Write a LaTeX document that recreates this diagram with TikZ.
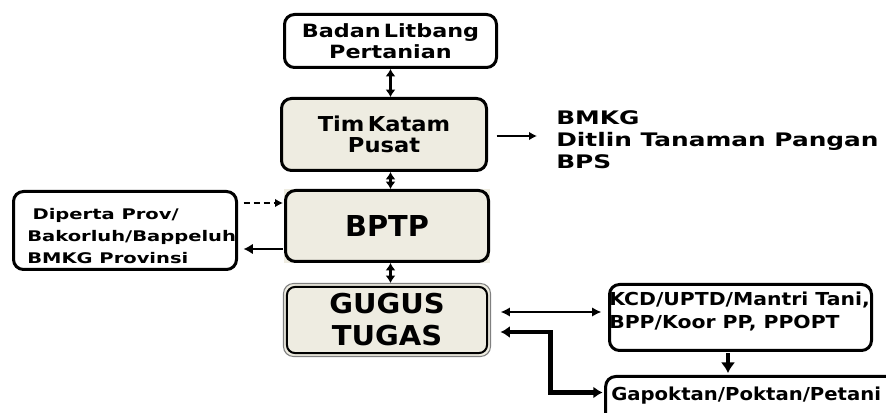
\documentclass[tikz,border=0pt]{standalone}
\usepackage{fontspec}
\setmainfont{DejaVu Sans}
\usetikzlibrary{arrows.meta,calc}
\definecolor{beige}{HTML}{EEECE1}
\newcommand\ff[3]{\fontspec{DejaVu Sans}[FakeStretch=#1]\fontsize{#2}{#3}\selectfont\bfseries}
\begin{document}
\begin{tikzpicture}[x=0.75pt,y=-0.75pt,
  box/.style={draw,line width=2.25pt,rounded corners=7.5pt,inner sep=0pt,align=center},
  txt/.style={inner sep=0pt,align=left},
  vdbl/.style={line width=2pt,{Latex[length=5.5pt,width=7.5pt]}-{Latex[length=5.5pt,width=7.5pt]}},
  hdbl/.style={line width=2pt,{Latex[length=7pt,width=7pt]}-{Latex[length=7pt,width=7pt]}},
  fat/.style={line width=3.6pt,{Latex[length=7pt,width=9pt]}-{Latex[length=7pt,width=9pt]}},
  fatone/.style={line width=3pt,-{Latex[length=8pt,width=11pt]}},
  onetip/.style={line width=1.8pt,-{Latex[length=6pt,width=6.5pt]}}]
\clip (0,0) rectangle (886,413);
\fill[white] (0,0) rectangle (886,413);

% boxes
\node[box,fill=white,minimum width=159pt,minimum height=39.75pt,
  font={\ff{1.22}{13.7pt}{15.75pt}}] (badan) at (390.5,41)
  {Badan\,Litbang\\Pertanian};
\node[box,fill=beige,minimum width=153.75pt,minimum height=54pt,
  font={\ff{1.1}{15.4pt}{15.75pt}}] (tim) at (384,134.5)
  {Tim\,Katam\\Pusat};
\fill[beige] (284,189) rectangle (490,263);
\node[box,minimum width=152.25pt,minimum height=53.25pt,
  font={\ff{1.0}{21.6pt}{24pt}}] (bptp) at (387,226) {BPTP};
\node[box,fill=beige,draw=gray,line width=0.8pt,minimum width=155.25pt,minimum height=54.75pt,
  font={\ff{1.06}{20.5pt}{24pt}}] (gugus) at (387,320) {GUGUS\\TUGAS};
\draw[line width=1.5pt,rounded corners=6pt] ($(gugus.north west)+(4,4)$) rectangle ($(gugus.south east)+(-4,-4)$);

\node[box,fill=white,minimum width=167.25pt,minimum height=58.5pt] (dip) at (125,230.5) {};
\node[txt,anchor=west,font={\ff{1.33}{11pt}{16.5pt}}] (diptxt) at (27,236)
  {\hspace*{4pt}Diperta Prov/\\Bakorluh/Bappeluh\\BMKG Provinsi};

\node[txt,anchor=west,font={\ff{1.33}{14pt}{16.5pt}}] (kat) at (556,140)
  {BMKG\\Ditlin Tanaman Pangan\\BPS};

\node[box,fill=white,minimum width=196.5pt,minimum height=49.5pt] (kcd) at (740.5,317.5) {};
\node[txt,anchor=west,font={\ff{1.14}{13.4pt}{17.25pt}}] (kcdtxt) at (609,311)
  {KCD/UPTD/Mantri Tani,\\BPP/Koor PP, PPOPT};

\node[box,fill=white,minimum width=224pt,minimum height=46.5pt] (gap) at (755,407.5) {};
\node[txt,anchor=base west,font={\ff{1.1}{13.4pt}{16pt}}] (gaptxt) at (611,401)
  {Gapoktan/Poktan/Petani};

% connectors
\draw[vdbl] (badan.south) -- (badan.south |- tim.north);
\draw[vdbl] (tim.south -| badan.south) -- (bptp.north -| badan.south);
\draw[vdbl] (bptp.south -| badan.south) -- (gugus.north -| badan.south);

\draw[onetip] ($(tim.east)+(8.5,1.5)$) -- ($(kat.west |- tim.east)+(-19,1.5)$);

\draw[onetip,dash pattern=on 5pt off 2.5pt] ($(dip.east)+(5.5,-27.5)$) -- ($(bptp.west)+(-1,-23)$);
\draw[onetip,-{Latex[length=7pt,width=8pt]}] ($(bptp.west)+(-1,23)$) -- ($(dip.east)+(5.5,18.5)$);

\draw[hdbl] ($(gugus.east)+(9.5,-8)$) -- ($(kcd.west)+(-6.5,-5.5)$);
\coordinate (bend) at ($(gap.north west)+(-53.5,17.5)$);
\draw[fat] ($(gugus.east)+(9.5,12)$) -| (bend) -- ($(gap.north west)+(-1.5,17.5)$);
\coordinate (kd) at ($(kcd.south)+(-12.5,1.5)$);
\draw[fatone] (kd) -- ($(kd |- gap.north)+(0,-2)$);
\end{tikzpicture}
\end{document}
